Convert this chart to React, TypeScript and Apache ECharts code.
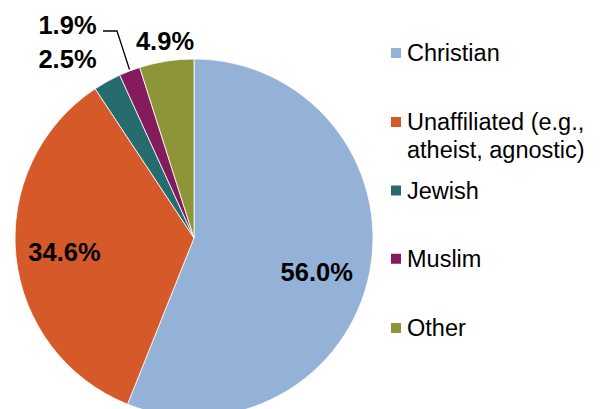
import React, { useEffect, useRef } from "react";
import * as echarts from "echarts";

const categories = ["Christian", "Unaffiliated (e.g., atheist, agnostic)", "Jewish", "Muslim", "Other"];
const values = [56.0, 34.6, 2.5, 1.9, 4.9];
const colors = ["#94B1D8", "#D65A29", "#266B6E", "#831B5D", "#8E9538"];
const legendTexts = ["Christian", " \nUnaffiliated (e.g.,\natheist, agnostic)", "Jewish", "Muslim", "Other"];
const legendTops = [39, 80, 176.5, 244.7, 314];
const labelPos = [
  [316.7, 271.7],
  [64.5, 252],
  [67.5, 59],
  [67.5, 25],
  [165, 40.5],
];

export default function App() {
  const ref = useRef<HTMLDivElement>(null);
  useEffect(() => {
    if (!ref.current) return;
    const chart = echarts.init(ref.current, null, { renderer: "svg" });
    const font = "'Liberation Sans', Arial, sans-serif";
    const legends = categories.map((name, i) => ({
      show: true,
      orient: "vertical",
      left: 389,
      top: legendTops[i],
      padding: 0,
      itemWidth: 12,
      itemHeight: 12,
      icon: "rect",
      selectedMode: false,
      data: [name],
      formatter: () => legendTexts[i],
      textStyle: {
        fontFamily: font,
        fontSize: 23.5,
        lineHeight: 28,
        color: "#000",
      },
    }));
    chart.setOption({
      animation: false,
      backgroundColor: "#fff",
      legend: legends,
      series: [
        {
          type: "pie",
          center: [194, 238],
          radius: 179,
          startAngle: 90,
          clockwise: true,
          avoidLabelOverlap: false,
          itemStyle: { borderColor: "#fff", borderWidth: 0.8 },
          label: {
            show: true,
            position: "outside",
            color: "#000",
            fontFamily: font,
            fontWeight: "bold",
            fontSize: 25.5,
            formatter: (p: any) => p.value.toFixed(1) + "%",
          },
          labelLine: { show: false, lineStyle: { color: "#000", width: 1.3 } },
          labelLayout: (p: any) => {
            const pos = labelPos[p.dataIndex];
            const out: any = { x: pos[0], y: pos[1], align: "center", verticalAlign: "middle" };
            if (p.dataIndex === 3) {
              out.labelLinePoints = [
                [103, 31],
                [117, 31],
                [129.5, 69.5],
              ];
            }
            return out;
          },
          data: categories.map((name, i) => ({
            name,
            value: values[i],
            itemStyle: { color: colors[i] },
            labelLine: i === 3 ? { show: true, smooth: false, lineStyle: { color: "#000", width: 1.3 } } : { show: false },
          })),
        },
      ],
    });
    return () => chart.dispose();
  }, []);
  return <div ref={ref} style={{ position: "absolute", left: 0, top: 0, width: 600, height: 409 }} />;
}
